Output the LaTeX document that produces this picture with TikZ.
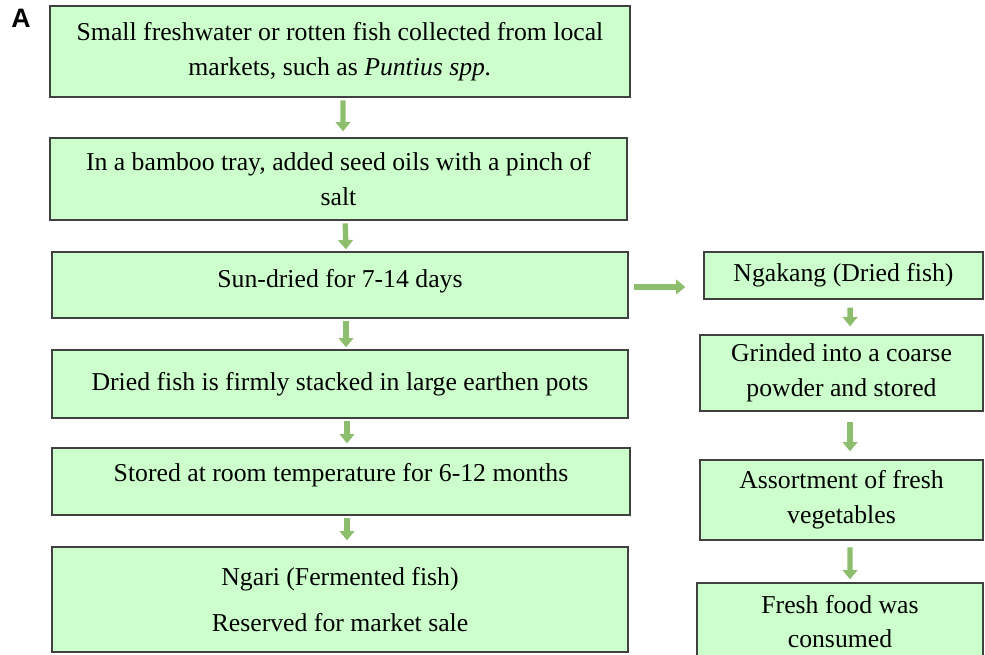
\documentclass[tikz,border=0pt]{standalone}
\usepackage{fontspec}
\setmainfont{Liberation Serif}
\setsansfont{Liberation Sans}
\usetikzlibrary{arrows.meta}
\definecolor{boxfill}{HTML}{CCFFCC}
\definecolor{boxline}{HTML}{404040}
\definecolor{arrowgreen}{HTML}{8DBE6E}
\begin{document}
\begin{tikzpicture}[x=0.75pt,y=-0.75pt,
    stepbox/.style={draw=boxline,line width=1pt,fill=boxfill,align=center,
      font=\fontsize{19.3}{26}\selectfont,inner sep=0pt},
    flow/.style={draw=arrowgreen,line width=4pt,
      -{Triangle[length=7pt,width=11pt]},shorten <=2pt,shorten >=3pt}]
    \useasboundingbox (0,0) rectangle (985,654);
    \clip (0,0) rectangle (985,654);
    % panel label
    \node[font=\sffamily\bfseries\fontsize{20}{22}\selectfont] (lab) at (21,18.5) {A};
    % main column
    \node[stepbox,minimum width=435pt,minimum height=68.25pt] (B1) at (340,51.5)
      {Small freshwater or rotten fish collected from local\\markets, such as \textit{Puntius spp.}};
    \node[stepbox,minimum width=432.75pt,minimum height=61.5pt] (B2) at (338.5,179)
      {In a bamboo tray, added seed oils with a pinch of\\salt};
    \node[stepbox,minimum width=432pt,minimum height=49.5pt,text depth=10pt] (B3) at (340,285)
      {Sun-dried for 7-14 days};
    \node[stepbox,minimum width=432pt,minimum height=51pt] (B4) at (340,384)
      {Dried fish is firmly stacked in large earthen pots};
    \node[stepbox,minimum width=433.5pt,minimum height=50.25pt,text depth=14pt] (B5) at (341,481.5)
      {Stored at room temperature for 6-12 months};
    \node[stepbox,minimum width=432pt,minimum height=78.75pt] (B6) at (340,599.5)
      {Ngari (Fermented fish)\\[8pt]Reserved for market sale};
    % side column
    \node[stepbox,minimum width=209.25pt,minimum height=35.25pt] (R1) at (843.5,275.5)
      {Ngakang (Dried fish)};
    \node[stepbox,minimum width=212.25pt,minimum height=57pt] (R2) at (841.5,373)
      {Grinded into a coarse\\powder and stored};
    \node[stepbox,minimum width=212.25pt,minimum height=60pt] (R3) at (841.5,500)
      {Assortment of fresh\\vegetables};
    \node[stepbox,minimum width=214.5pt,minimum height=57.75pt] (R4) at (840,621.5)
      {Fresh food was\\consumed};
    % arrows
    \draw[flow,shorten >=4.5pt] ([xshift=2.25pt]B1.south) -- ([xshift=3.4pt]B2.north);
    \draw[flow,shorten >=1.5pt] ([xshift=5pt]B2.south) -- ([xshift=4.5pt]B3.north);
    \draw[flow,shorten >=1.5pt] ([xshift=4.5pt]B3.south) -- ([xshift=4.5pt]B4.north);
    \draw[flow] ([xshift=5.25pt]B4.south) -- ([xshift=4.5pt]B5.north);
    \draw[flow,shorten >=4.5pt] ([xshift=4.5pt]B5.south) -- ([xshift=5.25pt]B6.north);
    \draw[flow,shorten <=4pt,shorten >=13.5pt] ([yshift=-1.5pt]B3.east) -- ([yshift=-1.5pt]B3.east -| R1.west);
    \draw[flow,shorten <=6pt,shorten >=6pt] ([xshift=5pt]R1.south) -- ([xshift=6.4pt]R2.north);
    \draw[flow,shorten <=8pt,shorten >=6pt] ([xshift=6.4pt]R2.south) -- ([xshift=6.4pt]R3.north);
    \draw[flow,shorten <=5pt,shorten >=2.25pt] ([xshift=6.4pt]R3.south) -- ([xshift=7.5pt]R4.north);
\end{tikzpicture}
\end{document}
